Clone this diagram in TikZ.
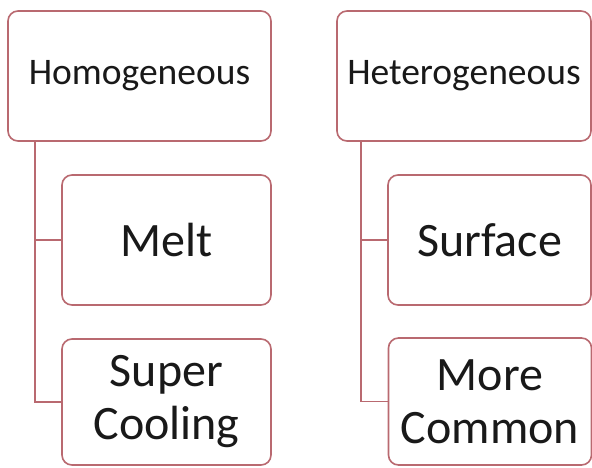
\documentclass[tikz,border=0pt]{standalone}
\usepackage{fontspec}
\setmainfont{Carlito}
\definecolor{bordc}{RGB}{185,105,112}
\definecolor{txtc}{RGB}{25,25,25}
\begin{document}
\begin{tikzpicture}[x=1pt,y=-1pt,
  box/.style={draw=bordc,line width=1.6pt,rounded corners=10pt,fill=white,
    text=txtc,align=center,inner sep=0pt,anchor=center},
  small/.style={font=\fontsize{37.5}{44}\selectfont},
  big/.style={font=\fontsize{48}{53}\selectfont},
  conn/.style={draw=bordc,line width=1.6pt}]
\useasboundingbox (0,0) rectangle (592,467);
\fill[white] (0,0) rectangle (592,467);
\node[box,small,minimum width=263pt,minimum height=130pt] (hom) at (139.5,76) {Homogeneous};
\node[box,big,minimum width=209pt,minimum height=130pt] (melt) at (166.5,240) {Melt};
\node[box,big,minimum width=209pt,minimum height=126pt] (sc) at (166.5,402) {Super\\Cooling};
\node[box,small,minimum width=254pt,minimum height=130pt] (het) at (464,76) {Heterogeneous};
\node[box,big,minimum width=203pt,minimum height=130pt] (surf) at (489.5,240) {Surface};
\node[box,big,minimum width=203pt,minimum height=127pt] (mc) at (490,401.5) {More\\Common};
\coordinate (hs) at ([xshift=28pt]hom.south west);
\coordinate (ts) at ([xshift=25pt]het.south west);
\draw[conn] (hs) |- (melt.west);
\draw[conn] (hs) |- (sc.west);
\draw[conn] (ts) |- (surf.west);
\draw[conn] (ts) |- (mc.west);
\end{tikzpicture}
\end{document}
